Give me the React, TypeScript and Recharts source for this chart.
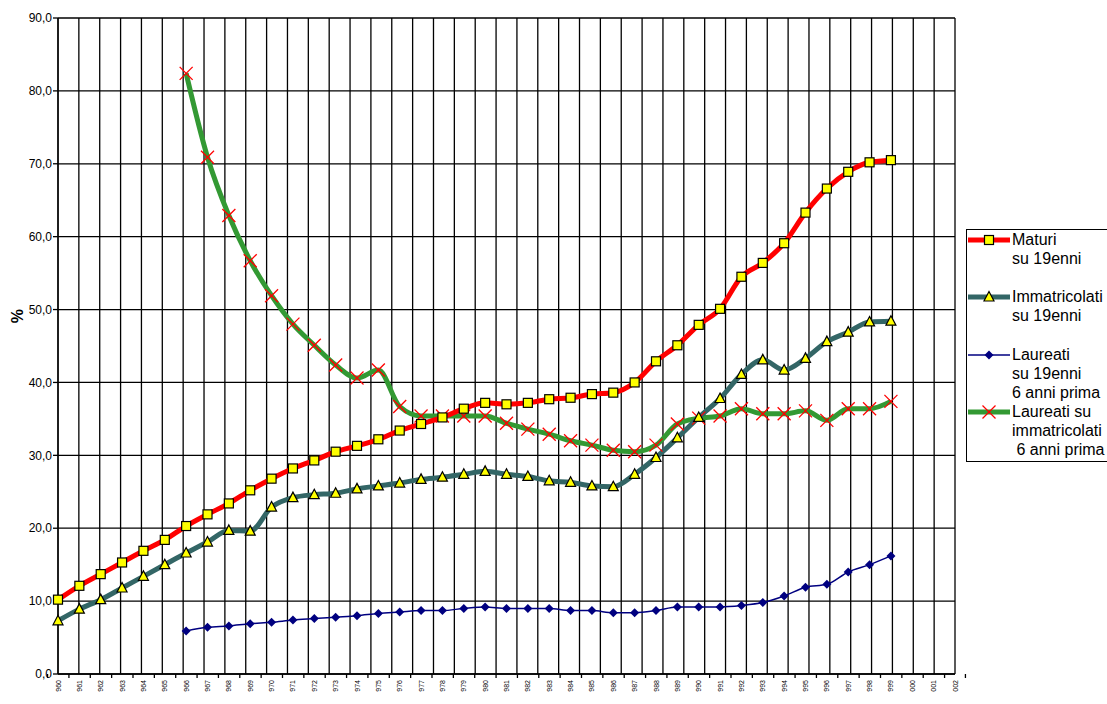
import React from 'react'
import { LineChart, Line, XAxis, YAxis, CartesianGrid } from 'recharts'

const W = 1107
const H = 704
const M_LEFT = 58
const M_RIGHT = 152
const M_TOP = 18
const X_AXIS_H = 30
const PLOT_BOTTOM = H - X_AXIS_H

const YEARS = [
  1960, 1961, 1962, 1963, 1964, 1965, 1966, 1967, 1968, 1969,
  1970, 1971, 1972, 1973, 1974, 1975, 1976, 1977, 1978, 1979,
  1980, 1981, 1982, 1983, 1984, 1985, 1986, 1987, 1988, 1989,
  1990, 1991, 1992, 1993, 1994, 1995, 1996, 1997, 1998, 1999,
  2000, 2001, 2002,
]
const BAND = (W - M_LEFT - M_RIGHT) / YEARS.length

// 1960-1999
const MATURI = [
  10.2, 12.1, 13.7, 15.3, 16.9, 18.4, 20.3, 21.9, 23.4, 25.2,
  26.8, 28.2, 29.3, 30.5, 31.3, 32.2, 33.4, 34.3, 35.2, 36.4,
  37.2, 37.0, 37.2, 37.7, 37.9, 38.4, 38.6, 40.0, 42.9, 45.1,
  47.9, 50.1, 54.5, 56.4, 59.1, 63.3, 66.6, 68.9, 70.2, 70.5,
]
// 1960-1999
const IMMATRICOLATI = [
  7.3, 8.9, 10.2, 11.8, 13.4, 15.0, 16.6, 18.1, 19.7, 19.6,
  22.9, 24.2, 24.6, 24.8, 25.4, 25.8, 26.2, 26.7, 27.0, 27.4,
  27.8, 27.4, 27.1, 26.5, 26.3, 25.8, 25.7, 27.4, 29.7, 32.4,
  35.2, 37.8, 41.1, 43.1, 41.7, 43.3, 45.6, 46.9, 48.3, 48.4,
]
// 1966-1999
const LAUREATI_START = 1966
const LAUREATI_19 = [
  5.9, 6.4, 6.6, 6.9,
  7.1, 7.4, 7.6, 7.8, 8.0, 8.3, 8.5, 8.7, 8.7, 9.0,
  9.2, 9.0, 9.0, 9.0, 8.7, 8.7, 8.4, 8.4, 8.7, 9.2,
  9.2, 9.2, 9.4, 9.8, 10.7, 11.9, 12.3, 14.0, 15.0, 16.2,
]
// 1966-1999
const LAUREATI_IMM = [
  82.4, 70.9, 62.9, 56.7,
  51.9, 48.0, 45.1, 42.4, 40.6, 41.7, 36.7, 35.4, 35.4, 35.4,
  35.4, 34.4, 33.6, 32.9, 32.0, 31.4, 30.7, 30.5, 31.4, 34.3,
  35.1, 35.4, 36.4, 35.7, 35.7, 36.1, 34.8, 36.4, 36.4, 37.4,
]

const Y_TICKS = [0, 10, 20, 30, 40, 50, 60, 70, 80, 90]

const data = YEARS.map((y, i) => {
  const j = y - LAUREATI_START
  return {
    year: String(y),
    maturi: MATURI[i] ?? null,
    immatricolati: IMMATRICOLATI[i] ?? null,
    laureati: j >= 0 ? LAUREATI_19[j] ?? null : null,
    laureatiImm: j >= 0 ? LAUREATI_IMM[j] ?? null : null,
  }
})

const FONT = '"Liberation Sans", Arial, sans-serif'

const RED = '#ff0000'
const TEAL = '#336666'
const NAVY = '#000080'
const GREEN = '#339933'

const Square = ({ cx, cy }: { cx: number; cy: number }) => (
  <rect x={cx - 4.5} y={cy - 4.5} width={9} height={9} fill="#ffff00" stroke="#000" strokeWidth={1.2} />
)
const Triangle = ({ cx, cy }: { cx: number; cy: number }) => (
  <polygon points={`${cx},${cy - 5.5} ${cx + 5},${cy + 4} ${cx - 5},${cy + 4}`} fill="#ffff00" stroke="#000" strokeWidth={1.2} />
)
const Diamond = ({ cx, cy }: { cx: number; cy: number }) => (
  <polygon points={`${cx},${cy - 4.5} ${cx + 4.5},${cy} ${cx},${cy + 4.5} ${cx - 4.5},${cy}`} fill={NAVY} />
)
const Cross = ({ cx, cy }: { cx: number; cy: number }) => (
  <g stroke={RED} strokeWidth={1.3}>
    <line x1={cx - 6.5} y1={cy - 6.5} x2={cx + 6.5} y2={cy + 6.5} />
    <line x1={cx - 6.5} y1={cy + 6.5} x2={cx + 6.5} y2={cy - 6.5} />
  </g>
)

const makeDot = (Shape: React.FC<{ cx: number; cy: number }>) => (p: any) =>
  p.value == null || p.cy == null || isNaN(p.cy) ? (
    <g key={p.index} />
  ) : (
    <g key={p.index}>
      <Shape cx={p.cx} cy={p.cy} />
    </g>
  )

function YearTick(props: any) {
  const { x, payload, index } = props
  const half = BAND / 2
  const ty = PLOT_BOTTOM + 6
  return (
    <g>
      <line x1={x - half} x2={x - half} y1={PLOT_BOTTOM} y2={PLOT_BOTTOM + 4} stroke="#000" strokeWidth={1.3} />
      {index === YEARS.length - 1 && (
        <line x1={x + half} x2={x + half} y1={PLOT_BOTTOM} y2={PLOT_BOTTOM + 4} stroke="#000" strokeWidth={1.3} />
      )}
      <text
        x={x}
        y={ty}
        transform={`rotate(-90 ${x} ${ty})`}
        textAnchor="end"
        dominantBaseline="central"
        fontSize={7}
        fontFamily={FONT}
        fill="#000"
      >
        {String(payload.value).slice(1)}
      </text>
    </g>
  )
}

const LEGEND = [
  { lines: ['Maturi', 'su 19enni'], color: RED, width: 5, Shape: Square, top: 0 },
  { lines: ['Immatricolati', 'su 19enni'], color: TEAL, width: 5, Shape: Triangle, top: 57 },
  { lines: ['Laureati', 'su 19enni', '6 anni prima'], color: NAVY, width: 1.5, Shape: Diamond, top: 115 },
  { lines: ['Laureati su', 'immatricolati', '\u00a06 anni prima'], color: GREEN, width: 5, Shape: Cross, top: 172 },
]

function ChartLegend() {
  return (
    <div
      style={{
        position: 'absolute',
        left: 966,
        top: 229,
        width: 160,
        height: 231,
        border: '1px solid #000',
        background: '#fff',
        fontFamily: FONT,
        fontSize: 16,
        color: '#000',
      }}
    >
      {LEGEND.map((e) => (
        <div key={e.lines[0]} style={{ position: 'absolute', left: 0, top: e.top }}>
          <svg width={44} height={19} style={{ position: 'absolute', left: 0, top: 0 }}>
            <line x1={1} x2={43} y1={10} y2={10} stroke={e.color} strokeWidth={e.width} />
            <e.Shape cx={22} cy={10} />
          </svg>
          <div style={{ position: 'absolute', left: 45, top: 0, lineHeight: '19px', whiteSpace: 'pre' }}>
            {e.lines.map((l) => (
              <div key={l}>{l}</div>
            ))}
          </div>
        </div>
      ))}
    </div>
  )
}

export default function App() {
  return (
    <div style={{ position: 'absolute', left: 0, top: 0, width: W, height: H, overflow: 'hidden', background: '#fff' }}>
      <LineChart width={W} height={H} data={data} margin={{ top: M_TOP, right: M_RIGHT, left: 0, bottom: 0 }}>
        <CartesianGrid
          stroke="#000"
          strokeWidth={1.3}
          verticalCoordinatesGenerator={({ offset }: any) =>
            Array.from({ length: YEARS.length + 1 }, (_, i) => offset.left + i * (offset.width / YEARS.length))
          }
        />
        <XAxis
          dataKey="year"
          interval={0}
          height={X_AXIS_H}
          axisLine={{ stroke: '#000', strokeWidth: 1.3 }}
          tickLine={false}
          tick={<YearTick />}
        />
        <YAxis
          width={M_LEFT}
          domain={[0, 90]}
          ticks={Y_TICKS}
          interval={0}
          tickFormatter={(v: number) => v.toFixed(1).replace('.', ',')}
          tick={{ fill: '#000', fontSize: 12, fontFamily: FONT }}
          axisLine={{ stroke: '#000', strokeWidth: 1.3 }}
          tickLine={{ stroke: '#000', strokeWidth: 1.3 }}
          tickSize={5}
          tickMargin={1}
          label={{
            content: () => (
              <text x={17} y={316} transform="rotate(-90 17 316)" textAnchor="middle" dominantBaseline="central" fontSize={16} fontWeight="bold" fontFamily={FONT} fill="#000">
                %
              </text>
            ),
          }}
        />
        <Line type="monotone" dataKey="laureatiImm" stroke={GREEN} strokeWidth={5} dot={makeDot(Cross)} activeDot={false} isAnimationActive={false} />
        <Line type="monotone" dataKey="laureati" stroke={NAVY} strokeWidth={1.5} dot={makeDot(Diamond)} activeDot={false} isAnimationActive={false} />
        <Line type="monotone" dataKey="immatricolati" stroke={TEAL} strokeWidth={5} dot={makeDot(Triangle)} activeDot={false} isAnimationActive={false} />
        <Line type="monotone" dataKey="maturi" stroke={RED} strokeWidth={5} dot={makeDot(Square)} activeDot={false} isAnimationActive={false} />
      </LineChart>
      <ChartLegend />
    </div>
  )
}
